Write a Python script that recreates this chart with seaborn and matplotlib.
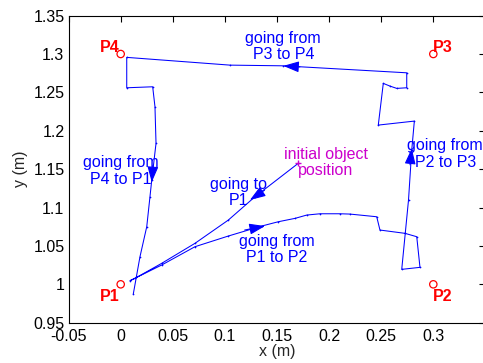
import numpy as np
import pandas as pd
import matplotlib
matplotlib.use('Agg')
import matplotlib.pyplot as plt
import seaborn as sns

# Tracked object path (m), in travel order
path_x = [0.1704, 0.1289, 0.1033, 0.0713, 0.0393, 0.0137, 0.0089,
          0.0393, 0.0713, 0.1033, 0.1353, 0.1512, 0.1673, 0.1785, 0.1913,
          0.2104, 0.2200, 0.2457, 0.2488, 0.2728, 0.2841, 0.2872, 0.2697,
          0.2762, 0.2793, 0.2818, 0.2472, 0.2520, 0.2584, 0.2649, 0.2745,
          0.2745, 0.1560, 0.1049, 0.0058, 0.0058, 0.0307, 0.0329, 0.0339,
          0.0298, 0.0281, 0.0250, 0.0185, 0.0121]
path_y = [1.1576, 1.1141, 1.0837, 1.0534, 1.0273, 1.0078, 1.0047,
          1.0251, 1.0490, 1.0629, 1.0759, 1.0815, 1.0859, 1.0902, 1.0919,
          1.0919, 1.0915, 1.0880, 1.0707, 1.0664, 1.0620, 1.0221, 1.0195,
          1.1098, 1.1749, 1.2126, 1.2074, 1.2617, 1.2582, 1.2552, 1.2560,
          1.2755, 1.2846, 1.2855, 1.2956, 1.2560, 1.2573, 1.2313, 1.1836,
          1.1358, 1.1141, 1.0750, 1.0359, 0.9874]

# Corner targets
corner_names = ['P1', 'P2', 'P3', 'P4']
corner_x = [0.0, 0.3, 0.3, 0.0]
corner_y = [1.0, 1.0, 1.3, 1.3]

# Direction arrows: (tail x, tail y, tip x, tip y)
arrow_tail_x = [0.172, 0.031, 0.138, 0.119, 0.2777]
arrow_tail_y = [1.2832, 1.155, 1.1225, 1.0707, 1.1556]
arrow_tip_x = [0.156, 0.0298, 0.124, 0.1385, 0.2793]
arrow_tip_y = [1.2845, 1.133, 1.1098, 1.0759, 1.177]

# Annotations
note_text = ['going from\nP3 to P4', 'going from\nP4 to P1', 'going to\nP1',
             'going from\nP1 to P2', 'going from\nP2 to P3']
note_x = [0.156, 0.0, 0.1129, 0.1497, 0.3115]
note_y = [1.3094, 1.1475, 1.1195, 1.0453, 1.1697]

sns.set_style('white')
plt.rcParams['font.family'] = ['Liberation Sans', 'DejaVu Sans']
plt.rcParams['font.size'] = 11.5

fig = plt.figure(figsize=(4.83, 3.63), dpi=100)
ax = fig.add_axes([0.142, 0.111, 0.863, 0.846])

df = pd.DataFrame({'x': path_x, 'y': path_y})
sns.lineplot(data=df, x='x', y='y', sort=False, estimator=None, ax=ax,
             color='#0000ff', linewidth=0.75, marker='.', markersize=2.5,
             markeredgewidth=0)

# start point
ax.plot(path_x[0], path_y[0], marker='+', color='#cc00cc', ms=5, mew=1)

# corners
sns.scatterplot(x=corner_x, y=corner_y, ax=ax, marker='o', s=28,
                facecolor='none', edgecolor='red', linewidth=0.9)
for name, cx, cy in zip(corner_names, corner_x, corner_y):
    if cx == 0:
        ha = 'right'
        dx = -0.001
    else:
        ha = 'left'
        dx = 0.0
    dy = 0.008 if cy > 1.2 else -0.016
    ax.text(cx + dx, cy + dy, name, color='red', fontweight='bold',
            ha=ha, va='center', fontsize=11.5)

for tx, ty, hx, hy in zip(arrow_tail_x, arrow_tail_y, arrow_tip_x, arrow_tip_y):
    ax.annotate('', xy=(hx, hy), xytext=(tx, ty),
                arrowprops=dict(arrowstyle='-|>,head_length=0.8,head_width=0.28',
                                color='#0000ff', lw=0.8, shrinkA=0, shrinkB=0,
                                mutation_scale=12))

for t, nx, ny in zip(note_text, note_x, note_y):
    ax.text(nx, ny, t, color='#0000ff', ha='center', va='center',
            linespacing=1.1, fontsize=11.5)
ax.text(0.197, 1.159, 'initial object\nposition', color='#cc00cc',
        ha='center', va='center', linespacing=1.1, fontsize=11.5)

ax.set_xlim(-0.05, 0.35)
ax.set_ylim(0.95, 1.35)
ax.set_xticks(np.arange(-0.05, 0.351, 0.05))
ax.set_yticks(np.arange(0.95, 1.351, 0.05))
ax.set_xticklabels(['-0.05', '0', '0.05', '0.1', '0.15', '0.2', '0.25', '0.3', ''])
ax.set_yticklabels(['0.95', '1', '1.05', '1.1', '1.15', '1.2', '1.25', '1.3', '1.35'])
ax.tick_params(direction='in', length=4, width=0.8, top=True, right=True,
               labelsize=11.5, pad=3, colors='black')
ax.tick_params(axis='x', pad=4.5)
for s in ax.spines.values():
    s.set_color('black')
    s.set_linewidth(0.8)
ax.set_xlabel('x (m)', fontsize=11.5, labelpad=0)
ax.set_ylabel('y (m)', fontsize=11.5, labelpad=4)

fig.savefig('out.png', dpi=100)
